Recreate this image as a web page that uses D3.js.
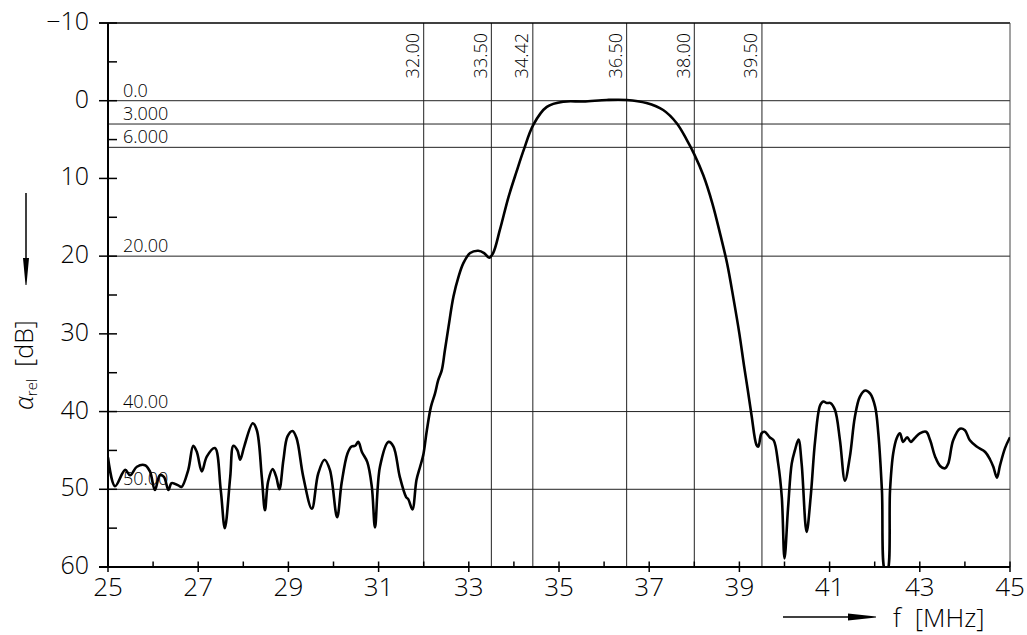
<!DOCTYPE html>
<html>
<head>
<meta charset="utf-8">
<script src="https://cdn.jsdelivr.net/npm/d3@7"></script>
<style>
  html, body { margin: 0; padding: 0; background: #fff; }
  svg text { font-family: "Open Sans", "DejaVu Sans", sans-serif; font-weight: 300; fill: #000; }
</style>
</head>
<body>
<svg id="chart" width="1027" height="635"></svg>
<script>
// Measured filter response: relative attenuation (dB) versus frequency (MHz)
const freqMHz = [
  25.00, 25.155, 25.38, 25.49, 25.64, 25.82, 25.93, 26.04, 26.15, 26.24, 26.34, 26.41, 26.56, 26.63,
  26.78, 26.89, 26.97, 27.08, 27.19, 27.37, 27.50, 27.59, 27.71, 27.78, 27.87, 27.93, 28.02, 28.21,
  28.30, 28.41, 28.48, 28.55, 28.65, 28.73, 28.80, 28.89, 28.98, 29.09, 29.18, 29.33, 29.52, 29.66,
  29.80, 29.92, 30.08, 30.18, 30.31, 30.40, 30.48, 30.55, 30.63, 30.75, 30.85, 30.92, 31.03, 31.22,
  31.33, 31.47, 31.61, 31.66, 31.75, 31.84, 31.92, 31.99, 32.07, 32.16, 32.25, 32.32, 32.40, 32.47,
  32.55, 32.66, 32.77, 32.88, 33.03, 33.21, 33.34, 33.45, 33.54, 33.69, 33.88, 34.06, 34.22, 34.43,
  34.73, 35.10, 35.54, 36.06, 36.50, 36.94, 37.31, 37.61, 37.83, 38.00, 38.20, 38.40, 38.58, 38.73,
  38.87, 39.00, 39.10, 39.18, 39.27, 39.38, 39.42, 39.49, 39.56, 39.67, 39.76, 39.86, 39.94,
  40.00, 40.08, 40.16, 40.23, 40.31, 40.38, 40.49, 40.58, 40.68, 40.79, 40.86, 40.94, 41.02, 41.12,
  41.23, 41.34, 41.45, 41.56, 41.67, 41.79, 41.90, 42.01, 42.08, 42.16, 42.23, 42.28, 42.34, 42.41,
  42.49, 42.56, 42.63, 42.72, 42.80, 42.89, 43.00, 43.14, 43.23, 43.34, 43.45, 43.56, 43.63, 43.74,
  43.89, 44.00, 44.11, 44.26, 44.45, 44.56, 44.63, 44.71, 44.78, 44.89, 45.00
];
const attenDB = [
  45.9, 49.6, 47.5, 48.2, 47.1, 46.9, 47.7, 50.1, 48.2, 48.4, 50.1, 49.2, 49.5, 49.7,
  47.5, 44.4, 45.2, 47.7, 45.8, 44.7, 50.1, 55.0, 48.4, 44.4, 45.0, 46.2, 44.5, 41.5,
  42.4, 48.4, 52.7, 49.0, 47.4, 48.4, 50.0, 46.2, 43.2, 42.5, 43.4, 48.4, 52.5, 48.0,
  46.2, 47.5, 53.6, 49.2, 45.4, 44.5, 44.4, 43.9, 45.2, 46.5, 49.7, 54.9, 47.1, 43.9,
  44.5, 48.4, 51.0, 51.3, 52.6, 48.8, 47.1, 45.6, 42.4, 39.4, 37.7, 36.0, 34.7, 32.1,
  29.1, 25.2, 22.7, 20.9, 19.6, 19.3, 19.6, 20.2, 19.6, 16.6, 12.4, 9.1, 6.3, 3.1,
  0.8, 0.13, 0.1, -0.1, -0.1, 0.3, 1.2, 2.9, 5.0, 6.9, 9.6, 13.2, 17.3, 21.0,
  25.5, 30.0, 34.0, 37.0, 40.5, 44.3, 44.5, 42.8, 42.6, 43.3, 43.7, 46.7, 51.0,
  58.9, 52.3, 46.7, 45.0, 43.6, 46.7, 55.5, 51.0, 43.7, 39.2, 38.7, 38.9, 38.9, 39.8,
  43.7, 48.9, 45.8, 40.7, 38.1, 37.3, 37.7, 39.4, 42.8, 50.1, 60.5, 60.5, 50.1, 45.4,
  43.4, 42.8, 43.9, 43.3, 43.9, 43.4, 42.8, 42.6, 43.7, 45.8, 47.0, 47.3, 46.7, 43.7,
  42.2, 42.4, 43.7, 44.5, 45.2, 46.2, 47.1, 48.5, 46.9, 44.7, 43.3
];

// Reference attenuation levels and their labels
const refLevels = [0, 3, 6, 20, 40, 50];
const refLabels = ["0.0", "3.000", "6.000", "20.00", "40.00", "50.00"];

// Marker frequencies and their labels
const markerFreqs = [32, 33.5, 34.42, 36.5, 38, 39.5];
const markerLabels = ["32.00", "33.50", "34.42", "36.50", "38.00", "39.50"];

// Axis ticks
const xMajorTicks = [25, 27, 29, 31, 33, 35, 37, 39, 41, 43, 45];
const xMinorTicks = [26, 28, 30, 32, 34, 36, 38, 40, 42, 44];
const yMajorTicks = [-10, 0, 10, 20, 30, 40, 50, 60];
const yMinorTicks = [-5, 5, 15, 25, 35, 45, 55];
const yTickLabels = ["\u221210", "0", "10", "20", "30", "40", "50", "60"];

const svg = d3.select("#chart");
const x = d3.scaleLinear().domain([25, 45]).range([108, 1010]);
const y = d3.scaleLinear().domain([-10, 60]).range([23, 567]);
const [x0, x1] = x.range();
const [y0, y1] = y.range();

svg.append("defs").append("clipPath").attr("id", "plotClip")
  .append("rect").attr("x", x0).attr("y", y0).attr("width", x1 - x0).attr("height", y1 - y0);

// Reference level lines
svg.append("g").selectAll("line").data(refLevels).join("line")
  .attr("x1", x0).attr("x2", x1)
  .attr("y1", d => y(d)).attr("y2", d => y(d))
  .attr("stroke", "#222").attr("stroke-width", 1);

svg.append("g").selectAll("text").data(refLevels).join("text")
  .attr("x", x0 + 15).attr("y", d => y(d) - 4)
  .attr("font-size", 18)
  .text((d, i) => refLabels[i]);

// Marker frequency lines
svg.append("g").selectAll("line").data(markerFreqs).join("line")
  .attr("x1", d => x(d)).attr("x2", d => x(d))
  .attr("y1", y0).attr("y2", y1)
  .attr("stroke", "#222").attr("stroke-width", 1);

svg.append("g").selectAll("text").data(markerFreqs).join("text")
  .attr("transform", d => `translate(${x(d) - 4.5},${y0 + 10}) rotate(-90)`)
  .attr("text-anchor", "end")
  .attr("font-size", 18)
  .text((d, i) => markerLabels[i]);

// Frame: top edge, right edge, axes
svg.append("line").attr("x1", x0 - 9).attr("x2", x1).attr("y1", y0).attr("y2", y0)
  .attr("stroke", "#000").attr("stroke-width", 1.5);
svg.append("line").attr("x1", x1).attr("x2", x1).attr("y1", y0).attr("y2", y1)
  .attr("stroke", "#444").attr("stroke-width", 1);
svg.append("line").attr("x1", x0).attr("x2", x0).attr("y1", y0).attr("y2", y1)
  .attr("stroke", "#000").attr("stroke-width", 2);
svg.append("line").attr("x1", x0 - 9).attr("x2", x1).attr("y1", y1).attr("y2", y1)
  .attr("stroke", "#000").attr("stroke-width", 2);

// Y ticks
svg.append("g").selectAll("line").data(yMajorTicks).join("line")
  .attr("x1", x0 - 9).attr("x2", x0 + 9)
  .attr("y1", d => y(d)).attr("y2", d => y(d))
  .attr("stroke", "#000").attr("stroke-width", 1.5);
svg.append("g").selectAll("line").data(yMinorTicks).join("line")
  .attr("x1", x0).attr("x2", x0 + 9)
  .attr("y1", d => y(d)).attr("y2", d => y(d))
  .attr("stroke", "#000").attr("stroke-width", 1.5);
svg.append("g").selectAll("text").data(yMajorTicks).join("text")
  .attr("x", x0 - 19).attr("y", d => y(d) + 7)
  .attr("text-anchor", "end")
  .attr("font-size", 25)
  .text((d, i) => yTickLabels[i]);

// X ticks
svg.append("g").selectAll("line").data(xMajorTicks).join("line")
  .attr("x1", d => x(d)).attr("x2", d => x(d))
  .attr("y1", y1 - 5.5).attr("y2", y1 + 5)
  .attr("stroke", "#000").attr("stroke-width", 1.5);
svg.append("g").selectAll("line").data(xMinorTicks).join("line")
  .attr("x1", d => x(d)).attr("x2", d => x(d))
  .attr("y1", y1 - 5.5).attr("y2", y1)
  .attr("stroke", "#000").attr("stroke-width", 1.5);
svg.append("g").selectAll("text").data(xMajorTicks).join("text")
  .attr("x", d => x(d)).attr("y", y1 + 29)
  .attr("text-anchor", "middle")
  .attr("font-size", 26)
  .text(d => d);

// Response curve
const line = d3.line()
  .x((d, i) => x(freqMHz[i]))
  .y(d => y(d))
  .curve(d3.curveCatmullRom.alpha(0.5));
svg.append("path")
  .datum(attenDB)
  .attr("clip-path", "url(#plotClip)")
  .attr("fill", "none")
  .attr("stroke", "#000")
  .attr("stroke-width", 2.6)
  .attr("stroke-linejoin", "round")
  .attr("d", line);

// Y axis title with downward arrow
const yTitle = svg.append("text")
  .attr("transform", "translate(33,410) rotate(-90)")
  .attr("font-size", 25);
yTitle.append("tspan").attr("font-style", "italic").text("\u03B1");
yTitle.append("tspan").attr("font-size", 15).attr("dy", 4).text("rel");
yTitle.append("tspan").attr("dy", -4).attr("dx", 12).text("[dB]");

svg.append("line").attr("x1", 26).attr("x2", 26).attr("y1", 193).attr("y2", 262)
  .attr("stroke", "#000").attr("stroke-width", 1.5);
svg.append("path").attr("d", "M23,258 L29,258 L26.5,285 L25.5,285 Z").attr("fill", "#000");

// X axis title with rightward arrow
svg.append("line").attr("x1", 783).attr("x2", 852).attr("y1", 617).attr("y2", 617)
  .attr("stroke", "#000").attr("stroke-width", 1.5);
svg.append("path").attr("d", "M848,613.5 L848,620.5 L876,617.5 L876,616.5 Z").attr("fill", "#000");
const xTitle = svg.append("text").attr("x", 893).attr("y", 627).attr("font-size", 26);
xTitle.append("tspan").text("f");
xTitle.append("tspan").attr("dx", 14).text("[MHz]");
</script>
</body>
</html>
